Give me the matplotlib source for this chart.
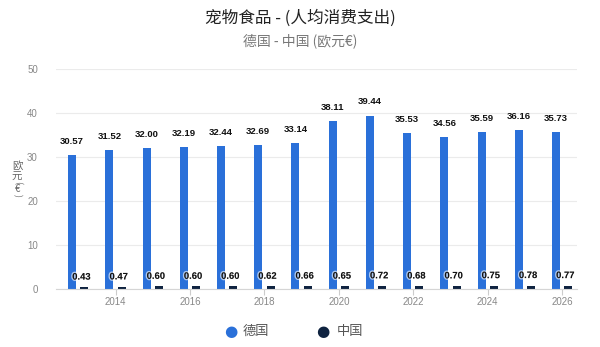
import matplotlib
matplotlib.use("Agg")
import matplotlib.pyplot as plt
import matplotlib.patheffects as pe
import numpy as np

plt.rcParams['font.family'] = ['Noto Sans CJK SC', 'DejaVu Sans']

years = [2013, 2014, 2015, 2016, 2017, 2018, 2019, 2020, 2021, 2022, 2023, 2024, 2025, 2026]
germany = [30.57, 31.52, 32.00, 32.19, 32.44, 32.69, 33.14, 38.11, 39.44, 35.53, 34.56, 35.59, 36.16, 35.73]
china = [0.43, 0.47, 0.60, 0.60, 0.60, 0.62, 0.66, 0.65, 0.72, 0.68, 0.70, 0.75, 0.78, 0.77]
tick_years = [2014, 2016, 2018, 2020, 2022, 2024, 2026]
yticks = [0, 10, 20, 30, 40, 50]

blue = '#2a70d9'
navy = '#0f2340'
num_font = ['Liberation Sans', 'DejaVu Sans']

fig = plt.figure(figsize=(6, 3.47), dpi=100)
ax = fig.add_axes([0.0933, 0.167, 0.8684, 0.634])

x = np.arange(len(years))
w = 0.215
off = 0.165
ax.bar(x - off, germany, width=w, color=blue, zorder=2)
ax.bar(x + off, china, width=w, color=navy, zorder=2)

for xi, v in zip(x, germany):
    ax.annotate(f"{v:.2f}", (xi - off, v), xytext=(0, 6.5), textcoords='offset points',
                ha='center', va='bottom', fontsize=6.8, fontweight='bold', color='#111111',
                family=num_font)
for xi, v in zip(x, china):
    ax.annotate(f"{v:.2f}", (xi + off - 0.08, v), xytext=(0, 4), textcoords='offset points',
                ha='center', va='bottom', fontsize=6.8, fontweight='bold', color='#111111',
                family=num_font,
                path_effects=[pe.withStroke(linewidth=2, foreground=(1, 1, 1, 0.6))])

ax.set_xlim(-0.6, 13.4)
ax.set_ylim(0, 50)
ax.set_yticks(yticks)
ax.set_yticklabels([str(t) for t in yticks], fontsize=7, color='#888888', family=num_font)
ax.set_xticks([years.index(t) for t in tick_years])
ax.set_xticklabels([str(t) for t in tick_years], fontsize=7, color='#888888', family=num_font)
ax.tick_params(axis='y', length=0, pad=13)
ax.tick_params(axis='x', length=4, color='#cccccc', pad=2)
ax.grid(axis='y', color='#ebebeb', linewidth=0.8, zorder=0)
for s in ['top', 'right', 'left']:
    ax.spines[s].set_visible(False)
ax.spines['bottom'].set_color('#d5d5d5')
ax.spines['bottom'].set_zorder(3)

fig.text(0.5, 1 - 18 / 347, "宠物食品 - (人均消费支出)", ha='center', va='center', fontsize=12,
         color='#222222', fontweight='medium')
fig.text(0.5, 1 - 41 / 347, "德国 - 中国 (欧元€)", ha='center', va='center', fontsize=10,
         color='#777777')

# vertical y-axis title: 欧元 upright, (€) in vertical form
ylab_x = 17 / 600
for ch, ypx, rot, fs in [("欧", 166, 0, 7.5), ("元", 177, 0, 7.5),
                         ("(", 182.5, -90, 6.5), ("€", 189, 0, 7), (")", 195.5, -90, 6.5)]:
    fig.text(ylab_x, 1 - ypx / 347, ch, ha='center', va='center', fontsize=fs, rotation=rot,
             color='#666666', family=['Noto Sans CJK SC', 'DejaVu Sans'])

# legend
ly = 1 - 331 / 347
fig.text(231 / 600, ly, "●", ha='center', va='center', fontsize=11, color=blue, family=['DejaVu Sans'])
fig.text(243 / 600, ly, "德国", ha='left', va='center', fontsize=9.5, color='#555555')
fig.text(323 / 600, ly, "●", ha='center', va='center', fontsize=11, color=navy, family=['DejaVu Sans'])
fig.text(337 / 600, ly, "中国", ha='left', va='center', fontsize=9.5, color='#555555')

fig.savefig("out.png", dpi=100, facecolor='white')
